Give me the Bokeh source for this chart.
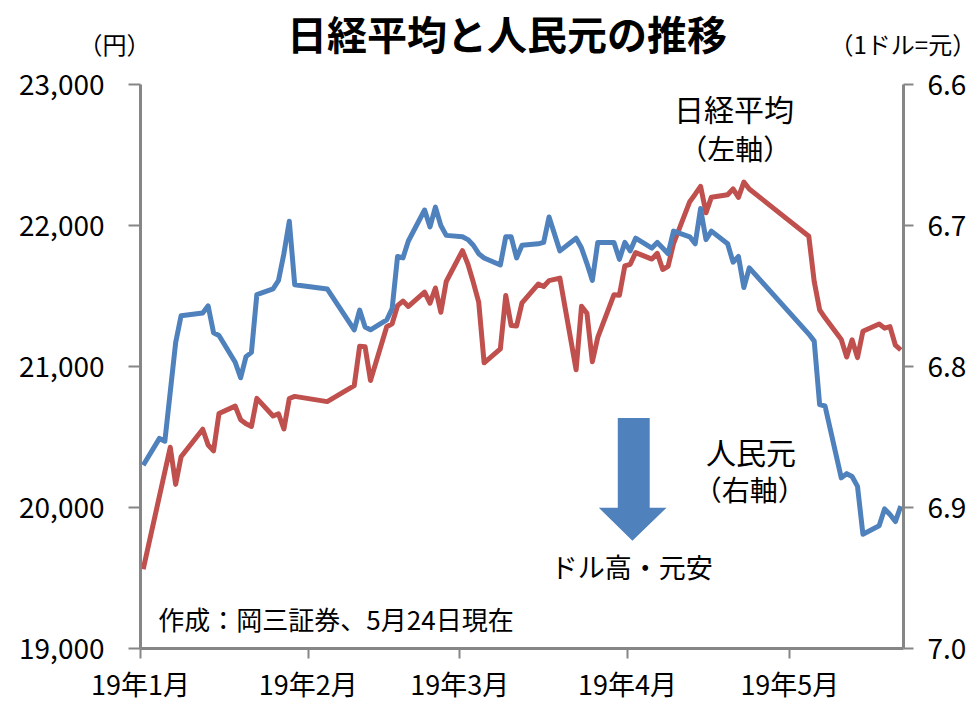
import pandas as pd
from bokeh.plotting import figure
from bokeh.layouts import column
from bokeh.models import (Range1d, LinearAxis, FixedTicker, NumeralTickFormatter,
                          ColumnDataSource, Label, PolyAnnotation)
from bokeh.embed import file_html
from bokeh.resources import INLINE

# ---------------- data ----------------
nikkei_dates = [
    "2019-01-04", "2019-01-09", "2019-01-10", "2019-01-11", "2019-01-15", "2019-01-16",
    "2019-01-17", "2019-01-18", "2019-01-21", "2019-01-22", "2019-01-23", "2019-01-24",
    "2019-01-25", "2019-01-28", "2019-01-29", "2019-01-30", "2019-01-31", "2019-02-01",
    "2019-02-07", "2019-02-12", "2019-02-13", "2019-02-14", "2019-02-15", "2019-02-18",
    "2019-02-19", "2019-02-20", "2019-02-21", "2019-02-22", "2019-02-25", "2019-02-26",
    "2019-02-27", "2019-02-28", "2019-03-01", "2019-03-04", "2019-03-05", "2019-03-06",
    "2019-03-07", "2019-03-08", "2019-03-11", "2019-03-12", "2019-03-13", "2019-03-14",
    "2019-03-15", "2019-03-18", "2019-03-19", "2019-03-20", "2019-03-22", "2019-03-25",
    "2019-03-26", "2019-03-27", "2019-03-28", "2019-03-29", "2019-04-01", "2019-04-02",
    "2019-04-03", "2019-04-04", "2019-04-05", "2019-04-08", "2019-04-09", "2019-04-10",
    "2019-04-11", "2019-04-12", "2019-04-15", "2019-04-16", "2019-04-17", "2019-04-18",
    "2019-04-19", "2019-04-22", "2019-04-23", "2019-04-24", "2019-04-25", "2019-04-26",
    "2019-05-07", "2019-05-08", "2019-05-09", "2019-05-10", "2019-05-13", "2019-05-14",
    "2019-05-15", "2019-05-16", "2019-05-17", "2019-05-20", "2019-05-21", "2019-05-22",
    "2019-05-23", "2019-05-24",
]
nikkei_close = [
    19562, 20427, 20164, 20360, 20555, 20443,
    20402, 20666, 20719, 20623, 20594, 20575,
    20774, 20649, 20665, 20557, 20773, 20788,
    20751, 20864, 21144, 21140, 20901, 21282,
    21303, 21431, 21464, 21426, 21528, 21449,
    21557, 21385, 21603, 21822, 21726, 21597,
    21456, 21026, 21125, 21504, 21290, 21287,
    21451, 21585, 21567, 21609, 21627, 20977,
    21428, 21378, 21034, 21206, 21509, 21505,
    21713, 21725, 21808, 21762, 21803, 21688,
    21711, 21871, 22169, 22222, 22278, 22090,
    22201, 22218, 22260, 22200, 22308, 22259,
    21924, 21603, 21402, 21345, 21191, 21067,
    21189, 21063, 21250, 21302, 21272, 21283,
    21151, 21117,
]

cny_dates = [
    "2019-01-04", "2019-01-07", "2019-01-08", "2019-01-09", "2019-01-10", "2019-01-11",
    "2019-01-15", "2019-01-16", "2019-01-17", "2019-01-18", "2019-01-21", "2019-01-22",
    "2019-01-23", "2019-01-24", "2019-01-25", "2019-01-28", "2019-01-29", "2019-01-30",
    "2019-01-31", "2019-02-01", "2019-02-07", "2019-02-12", "2019-02-13", "2019-02-14",
    "2019-02-15", "2019-02-18", "2019-02-19", "2019-02-20", "2019-02-21", "2019-02-22",
    "2019-02-25", "2019-02-26", "2019-02-27", "2019-02-28", "2019-03-01", "2019-03-04",
    "2019-03-05", "2019-03-06", "2019-03-07", "2019-03-08", "2019-03-11", "2019-03-12",
    "2019-03-13", "2019-03-14", "2019-03-15", "2019-03-18", "2019-03-19", "2019-03-20",
    "2019-03-22", "2019-03-25", "2019-03-26", "2019-03-27", "2019-03-28", "2019-03-29",
    "2019-04-01", "2019-04-02", "2019-04-03", "2019-04-04", "2019-04-05", "2019-04-08",
    "2019-04-09", "2019-04-10", "2019-04-11", "2019-04-12", "2019-04-15", "2019-04-16",
    "2019-04-17", "2019-04-18", "2019-04-19", "2019-04-22", "2019-04-23", "2019-04-24",
    "2019-04-25", "2019-04-26", "2019-05-07", "2019-05-08", "2019-05-09", "2019-05-10",
    "2019-05-13", "2019-05-14", "2019-05-15", "2019-05-16", "2019-05-17", "2019-05-20",
    "2019-05-21", "2019-05-22", "2019-05-23", "2019-05-24",
]
cny_rate = [
    6.870, 6.851, 6.853, 6.818, 6.783, 6.764,
    6.762, 6.757, 6.776, 6.778, 6.797, 6.808,
    6.793, 6.790, 6.749, 6.745, 6.739, 6.720,
    6.697, 6.742, 6.745, 6.774, 6.760, 6.772,
    6.774, 6.767, 6.759, 6.722, 6.723, 6.711,
    6.689, 6.701, 6.687, 6.700, 6.707, 6.708,
    6.710, 6.714, 6.720, 6.723, 6.728, 6.708,
    6.708, 6.723, 6.714, 6.713, 6.712, 6.694,
    6.718, 6.709, 6.716, 6.727, 6.739, 6.712,
    6.712, 6.724, 6.712, 6.718, 6.709, 6.716,
    6.712, 6.716, 6.720, 6.704, 6.708, 6.713,
    6.688, 6.710, 6.704, 6.713, 6.726, 6.722,
    6.744, 6.730, 6.777, 6.782, 6.827, 6.828,
    6.879, 6.876, 6.878, 6.885, 6.919, 6.913,
    6.901, 6.905, 6.910, 6.899,
]

month_tick_dates = ["2019-01-04", "2019-02-04", "2019-03-04", "2019-04-04", "2019-05-04"]
month_tick_labels = ["19年1月", "19年2月", "19年3月", "19年4月", "19年5月"]
left_ticks = [19000, 20000, 21000, 22000, 23000]
right_ticks = [6.6, 6.7, 6.8, 6.9, 7.0]

# ---------------- styling ----------------
FONT = "Noto Sans CJK JP"
RED = "#C0504D"
BLUE = "#4F81BD"
AXIS_GREY = "#868686"
W, H = 979, 705
TOP_H = 63
FRAME_L, FRAME_R = 140, 906

START = pd.Timestamp("2019-01-04")
AXIS_END_DAYS = 141  # axis spans Jan 4 .. May 25


def day_index(dates, offset=0.0):
    return [(pd.Timestamp(d) - START).days + offset for d in dates]


def add_label(fig, x, y, text, size, align="center", bold=False):
    fig.add_layout(Label(x=x, y=y, text=text, text_font=FONT, text_font_size=size,
                         text_align=align, text_baseline="middle", text_color="black",
                         text_font_style="bold" if bold else "normal"))


# ---------------- header band (title + unit labels) ----------------
# header coordinates are page pixels (frame aligned with the chart's frame)
head = figure(width=W, height=TOP_H, output_backend="svg", toolbar_location=None,
              title=None, x_range=Range1d(FRAME_L, FRAME_R), y_range=Range1d(TOP_H, 0),
              x_axis_type=None, y_axis_type=None,
              min_border_left=FRAME_L, min_border_right=W - FRAME_R,
              min_border_top=0, min_border_bottom=0)
head.outline_line_color = None
head.grid.visible = False

add_label(head, 508, 32, "日経平均と人民元の推移", "40px", bold=True)


def unit_axis(text, standoff):
    ax = LinearAxis(ticker=FixedTicker(ticks=[48]), major_label_overrides={48: text})
    ax.axis_line_color = None
    ax.major_tick_line_color = None
    ax.minor_tick_line_color = None
    ax.major_tick_out = 0
    ax.major_tick_in = 0
    ax.major_label_standoff = standoff
    ax.major_label_text_font = FONT
    ax.major_label_text_font_size = "24px"
    ax.major_label_text_color = "black"
    return ax


head.add_layout(unit_axis("（円）", -10), "left")
head.add_layout(unit_axis("（1ドル=元）", -74), "right")

# ---------------- main chart ----------------
src_n = ColumnDataSource(dict(x=day_index(nikkei_dates, 0.5), y=nikkei_close))
src_c = ColumnDataSource(dict(x=day_index(cny_dates, 0.5), y=cny_rate))

p = figure(width=W, height=H - TOP_H, output_backend="svg", toolbar_location=None,
           title=None, x_range=Range1d(0, AXIS_END_DAYS),
           y_range=Range1d(left_ticks[0], left_ticks[-1]),
           min_border_left=FRAME_L, min_border_right=W - FRAME_R,
           min_border_top=84 - TOP_H, min_border_bottom=56)
p.outline_line_color = None
p.background_fill_color = "white"
p.border_fill_color = "white"
p.xgrid.visible = False
p.ygrid.visible = False

p.extra_y_ranges = {"cny": Range1d(right_ticks[-1], right_ticks[0])}


def style_axis(ax, size, standoff, tick_out):
    ax.major_label_text_font = FONT
    ax.major_label_text_font_size = size
    ax.major_label_text_color = "black"
    ax.major_label_standoff = standoff
    ax.major_tick_out = tick_out
    ax.major_tick_in = 0
    ax.minor_tick_line_color = None
    ax.axis_line_color = AXIS_GREY
    ax.axis_line_width = 3
    ax.major_tick_line_color = AXIS_GREY
    ax.major_tick_line_width = 2


# x axis
tick_pos = day_index(month_tick_dates)
xa = p.xaxis[0]
xa.ticker = FixedTicker(ticks=tick_pos)
xa.major_label_overrides = {t: l for t, l in zip(tick_pos, month_tick_labels)}
style_axis(xa, "27px", 5, 10)

# left axis
ya = p.yaxis[0]
ya.ticker = FixedTicker(ticks=left_ticks)
ya.formatter = NumeralTickFormatter(format="0,0")
style_axis(ya, "28px", 24, 12)

# right axis (inverted: 6.6 at top)
ra = LinearAxis(y_range_name="cny", ticker=FixedTicker(ticks=right_ticks),
                formatter=NumeralTickFormatter(format="0.0"))
style_axis(ra, "28px", 14, 10)
p.add_layout(ra, "right")

# series
p.line("x", "y", source=src_n, line_color=RED, line_width=5, line_join="round")
p.line("x", "y", source=src_c, y_range_name="cny", line_color=BLUE, line_width=5,
       line_join="round")

# arrow (ドル高・元安)
arrow_xs = [88.2, 94.1, 94.1, 97.2, 90.9, 84.7, 88.2]
arrow_ys = [20635, 20635, 19998, 19998, 19765, 19998, 19998]
p.add_layout(PolyAnnotation(xs=arrow_xs, ys=arrow_ys, fill_color=BLUE, fill_alpha=1.0,
                            line_color=None))

add_label(p, 109.7, 22830, "日経平均", "30px")
add_label(p, 109.9, 22547, "（左軸）", "28px")
add_label(p, 112.8, 20401, "人民元", "30px")
add_label(p, 112.6, 20130, "（右軸）", "28px")
add_label(p, 90.8, 19585, "ドル高・元安", "27px")
add_label(p, 3.3, 19210, "作成：岡三証券、5月24日現在", "26px", align="left")

layout = column(head, p, spacing=0)
open("out.html", "w").write(file_html(layout, INLINE))
